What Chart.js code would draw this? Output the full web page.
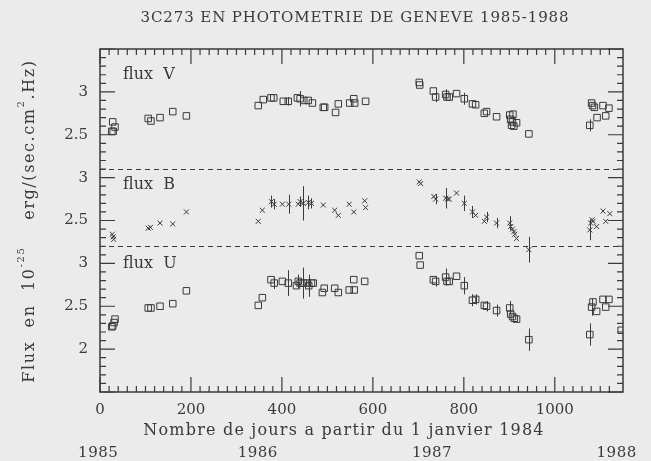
<!DOCTYPE html>
<html>
<head>
<meta charset="utf-8">
<script src="https://cdn.jsdelivr.net/npm/chart.js@4.4.0/dist/chart.umd.min.js"></script>
<style>
  html, body { margin: 0; padding: 0; background: #ebebeb; }
  canvas { display: block; }
</style>
</head>
<body>
<canvas id="geneve" width="651" height="461"></canvas>
<script>
// days since 1 Jan 1984, flux in 1e-25 erg/(s cm2 Hz), error half-length
var vDays = [26, 28, 29, 33, 106, 112, 132, 160, 190, 348, 359, 376, 382, 403, 414, 434, 440, 448, 458, 467, 491, 494, 518, 524, 549, 558, 560, 584, 702, 703, 733, 738, 760, 763, 768, 784, 801, 819, 826, 845, 850, 872, 901, 903, 905, 907, 908, 910, 916, 943, 1077, 1081, 1083, 1087, 1093, 1106, 1112, 1119];
var vFlux = [2.54, 2.65, 2.54, 2.59, 2.69, 2.66, 2.70, 2.77, 2.72, 2.84, 2.91, 2.93, 2.93, 2.89, 2.89, 2.93, 2.92, 2.90, 2.90, 2.87, 2.82, 2.82, 2.76, 2.86, 2.87, 2.92, 2.87, 2.89, 3.11, 3.08, 3.01, 2.94, 2.97, 2.94, 2.94, 2.98, 2.92, 2.86, 2.85, 2.75, 2.77, 2.71, 2.73, 2.68, 2.61, 2.65, 2.74, 2.60, 2.64, 2.51, 2.61, 2.87, 2.84, 2.82, 2.70, 2.84, 2.72, 2.81];
var vErr = [0, 0, 0, 0, 0, 0, 0, 0, 0, 0, 0, 0, 0, 0, 0.05, 0, 0.09, 0, 0, 0, 0, 0, 0, 0, 0, 0, 0, 0, 0, 0, 0, 0.06, 0.06, 0, 0, 0, 0.07, 0, 0, 0, 0, 0, 0, 0, 0, 0, 0, 0, 0, 0, 0.07, 0, 0, 0, 0, 0, 0, 0];

var bDays = [27, 29, 30, 106, 111, 132, 160, 190, 348, 357, 377, 383, 401, 415, 436, 440, 447, 458, 465, 491, 516, 524, 548, 558, 582, 584, 702, 705, 734, 738, 760, 764, 768, 784, 801, 819, 826, 845, 850, 872, 901, 903, 907, 910, 912, 916, 943, 1077, 1079, 1082, 1084, 1092, 1106, 1112, 1121];
var bFlux = [2.34, 2.31, 2.28, 2.41, 2.42, 2.47, 2.46, 2.60, 2.49, 2.62, 2.72, 2.69, 2.69, 2.69, 2.69, 2.72, 2.70, 2.71, 2.70, 2.68, 2.62, 2.56, 2.69, 2.60, 2.73, 2.65, 2.95, 2.93, 2.78, 2.75, 2.76, 2.75, 2.75, 2.82, 2.70, 2.60, 2.56, 2.49, 2.54, 2.47, 2.47, 2.43, 2.40, 2.37, 2.34, 2.29, 2.16, 2.39, 2.47, 2.51, 2.49, 2.43, 2.61, 2.49, 2.58];
var bErr = [0, 0, 0, 0, 0, 0, 0, 0, 0, 0, 0.07, 0.06, 0, 0.11, 0, 0.06, 0.2, 0.08, 0.06, 0, 0, 0, 0, 0, 0, 0, 0, 0, 0, 0.06, 0.12, 0, 0, 0, 0.09, 0.07, 0, 0, 0.06, 0.06, 0.08, 0, 0, 0, 0, 0, 0.15, 0.12, 0, 0, 0, 0, 0, 0, 0];

var uDays = [26, 28, 31, 33, 106, 112, 132, 160, 190, 348, 357, 376, 383, 401, 414, 432, 436, 440, 447, 456, 459, 465, 469, 489, 493, 516, 524, 548, 558, 559, 582, 702, 704, 733, 738, 760, 763, 768, 784, 801, 819, 826, 845, 850, 872, 901, 903, 907, 911, 916, 943, 1077, 1081, 1084, 1092, 1106, 1112, 1119, 1146];
var uFlux = [2.26, 2.27, 2.31, 2.35, 2.48, 2.48, 2.50, 2.53, 2.68, 2.51, 2.60, 2.81, 2.77, 2.79, 2.77, 2.74, 2.79, 2.77, 2.77, 2.77, 2.74, 2.77, 2.77, 2.66, 2.71, 2.71, 2.66, 2.69, 2.81, 2.69, 2.79, 3.09, 2.98, 2.81, 2.79, 2.84, 2.79, 2.79, 2.85, 2.74, 2.57, 2.58, 2.51, 2.50, 2.45, 2.48, 2.41, 2.38, 2.36, 2.35, 2.11, 2.17, 2.49, 2.55, 2.44, 2.58, 2.49, 2.58, 2.22];
var uErr = [0, 0, 0, 0, 0, 0, 0, 0, 0, 0, 0, 0, 0.07, 0, 0.15, 0, 0.08, 0, 0.18, 0, 0.13, 0, 0, 0, 0, 0, 0, 0, 0, 0, 0, 0, 0, 0, 0.06, 0.1, 0, 0, 0, 0.1, 0.07, 0.06, 0, 0.06, 0.07, 0.08, 0, 0, 0, 0, 0.13, 0.13, 0.1, 0, 0, 0, 0, 0, 0];

// the three panels share one stacked axis: V is shifted up by 2, B by 1
var panelNames = ['flux  V', 'flux  B', 'flux  U'];
var panelOffsets = [2, 1, 0];
var panelLimits = [4.1, 3.2]; // dashed separators (stacked units)

var dayTicks = [0, 200, 400, 600, 800, 1000];
var yearLabels = ['1985', '1986', '1987', '1988'];
var yearDays = [-4, 347, 730, 1136];

var ink = '#3a3a3a';
var serif = '"DejaVu Serif", "Liberation Serif", serif';

function points(days, flux, off) {
    return days.map(function (d, i) { return { x: d, y: flux[i] + off }; });
}

function panelValue(g) {
    if (g > panelLimits[0] + 1e-6) return g - panelOffsets[0];
    if (g > panelLimits[1] + 1e-6) return g - panelOffsets[1];
    return g - panelOffsets[2];
}

var decor = {
    id: 'decor',
    beforeDraw: function (chart) {
        var ctx = chart.ctx;
        ctx.save();
        ctx.fillStyle = '#ebebeb';
        ctx.fillRect(0, 0, chart.width, chart.height);
        ctx.restore();
    },
    afterDatasetsDraw: function (chart) {
        var ctx = chart.ctx, xs = chart.scales.x, ys = chart.scales.y;
        ctx.save();
        ctx.strokeStyle = ink;
        ctx.lineWidth = 1;
        chart.data.datasets.forEach(function (ds) {
            ds.data.forEach(function (p, i) {
                var e = ds.errors[i];
                if (!e) return;
                var x = Math.round(xs.getPixelForValue(p.x)) + 0.5;
                ctx.beginPath();
                ctx.moveTo(x, ys.getPixelForValue(p.y + e));
                ctx.lineTo(x, ys.getPixelForValue(p.y - e));
                ctx.stroke();
            });
        });
        ctx.restore();
    },
    afterDraw: function (chart) {
        var ctx = chart.ctx, a = chart.chartArea;
        var xs = chart.scales.x, ys = chart.scales.y;
        ctx.save();
        ctx.strokeStyle = ink;
        ctx.fillStyle = ink;

        // frame
        ctx.lineWidth = 1.5;
        ctx.strokeRect(a.left, a.top, a.right - a.left, a.bottom - a.top);

        // inward ticks
        ctx.lineWidth = 1.2;
        ctx.beginPath();
        xs.ticks.forEach(function (t) {
            if (t.value % 20 !== 0) return;
            var len = t.value % 200 === 0 ? 15 : 6;
            var x = xs.getPixelForValue(t.value);
            ctx.moveTo(x, a.bottom); ctx.lineTo(x, a.bottom - len);
            ctx.moveTo(x, a.top); ctx.lineTo(x, a.top + len);
        });
        ys.ticks.forEach(function (t) {
            var k = Math.round(t.value * 10);
            var len = k % 5 === 0 ? 15 : 6;
            var y = ys.getPixelForValue(t.value);
            ctx.moveTo(a.left, y); ctx.lineTo(a.left + len, y);
            ctx.moveTo(a.right, y); ctx.lineTo(a.right - len, y);
        });
        ctx.stroke();

        // dashed separators
        ctx.lineWidth = 1;
        ctx.setLineDash([5, 4]);
        panelLimits.forEach(function (g) {
            var y = Math.round(ys.getPixelForValue(g)) + 0.5;
            ctx.beginPath();
            ctx.moveTo(a.left, y); ctx.lineTo(a.right, y);
            ctx.stroke();
        });
        ctx.setLineDash([]);

        // panel names
        ctx.font = '16px ' + serif;
        ctx.textAlign = 'left';
        ctx.textBaseline = 'middle';
        var nameY = [75, 185, 264];
        panelNames.forEach(function (n, i) { ctx.fillText(n, 123, nameY[i]); });

        // title
        ctx.textAlign = 'center';
        ctx.font = '15px ' + serif;
        ctx.letterSpacing = '0.9px';
        ctx.fillText('3C273 EN PHOTOMETRIE DE GENEVE 1985-1988', 355, 18);

        // x title and years
        ctx.font = '16px ' + serif;
        ctx.letterSpacing = '1.2px';
        ctx.fillText('Nombre de jours a partir du 1 janvier 1984', 344, 431);
        ctx.font = '15px ' + serif;
        ctx.letterSpacing = '0.5px';
        yearLabels.forEach(function (s, i) {
            ctx.fillText(s, xs.getPixelForValue(yearDays[i]), 453);
        });

        // y title with superscripts
        ctx.translate(30, 221);
        ctx.rotate(-Math.PI / 2);
        ctx.letterSpacing = '1.6px';
        var parts = [['Flux  en  10', 0], ['-25', 1], ['    erg/(sec.cm', 0], ['2', 1], ['.Hz)', 0]];
        var big = '16px ' + serif, small = '10px ' + serif;
        var total = 0;
        parts.forEach(function (p) { ctx.font = p[1] ? small : big; total += ctx.measureText(p[0]).width; });
        var cx = -total / 2;
        ctx.textAlign = 'left';
        parts.forEach(function (p) {
            ctx.font = p[1] ? small : big;
            ctx.fillText(p[0], cx, p[1] ? -9 : 0);
            cx += ctx.measureText(p[0]).width;
        });
        ctx.restore();
    }
};

var ctx = document.getElementById('geneve').getContext('2d');
var chart = new Chart(ctx, {
    type: 'scatter',
    data: {
        datasets: [{
            label: 'flux V',
            data: points(vDays, vFlux, panelOffsets[0]),
            errors: vErr,
            pointStyle: 'rect',
            pointRadius: 4.6,
            borderColor: ink,
            backgroundColor: 'rgba(0,0,0,0)',
            borderWidth: 1
        }, {
            label: 'flux B',
            data: points(bDays, bFlux, panelOffsets[1]),
            errors: bErr,
            pointStyle: 'crossRot',
            pointRadius: 3.5,
            borderColor: ink,
            borderWidth: 1
        }, {
            label: 'flux U',
            data: points(uDays, uFlux, panelOffsets[2]),
            errors: uErr,
            pointStyle: 'rect',
            pointRadius: 4.6,
            borderColor: ink,
            backgroundColor: 'rgba(0,0,0,0)',
            borderWidth: 1
        }]
    },
    options: {
        responsive: false,
        animation: false,
        layout: { padding: { top: 49, right: 28, left: 0, bottom: 0 } },
        plugins: { legend: { display: false }, title: { display: false }, tooltip: { enabled: false } },
        scales: {
            x: {
                type: 'linear',
                min: 0,
                max: 1150,
                border: { display: false },
                grid: { display: false, drawTicks: false },
                ticks: {
                    stepSize: 20,
                    autoSkip: false,
                    maxRotation: 0,
                    padding: 9,
                    color: ink,
                    font: { family: serif, size: 15 },
                    callback: function (v) { return dayTicks.indexOf(v) >= 0 ? String(v) : ''; }
                },
                afterFit: function (s) { s.height = 69; }
            },
            y: {
                type: 'linear',
                min: 1.5,
                max: 5.5,
                border: { display: false },
                grid: { display: false, drawTicks: false },
                ticks: {
                    stepSize: 0.1,
                    autoSkip: false,
                    padding: 12,
                    color: ink,
                    font: { family: serif, size: 15 },
                    callback: function (v) {
                        var k = Math.round(v * 10);
                        if (k % 5 !== 0 || k <= 15 || k >= 55) return '';
                        return String(Math.round(panelValue(v) * 10) / 10);
                    }
                },
                afterFit: function (s) { s.width = 100; }
            }
        }
    },
    plugins: [decor]
});
</script>
</body>
</html>
